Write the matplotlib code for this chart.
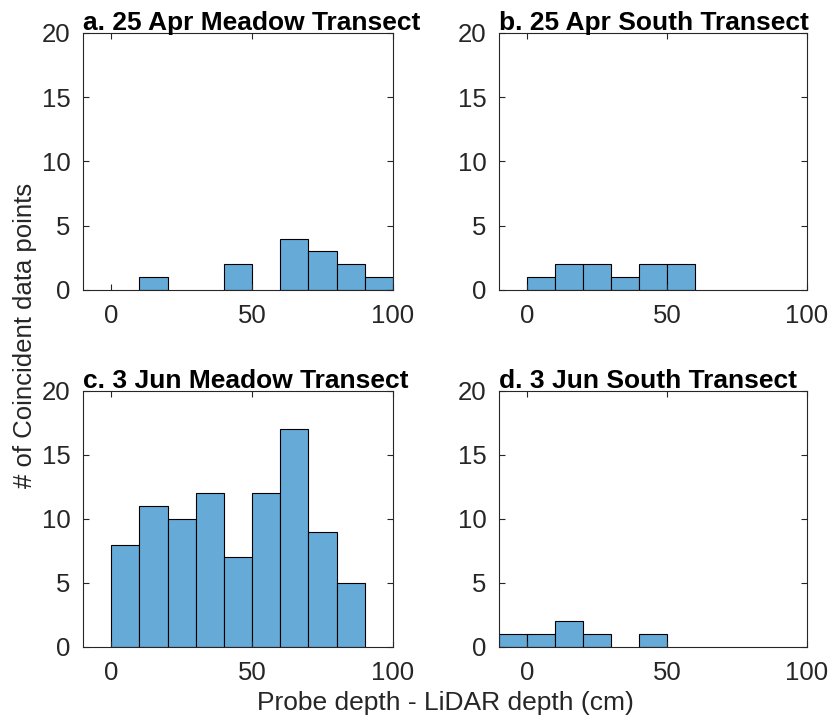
import numpy as np
import matplotlib.pyplot as plt

plt.rcParams['font.family'] = ['Liberation Sans', 'DejaVu Sans']

# histogram bin edges (cm) and counts per panel
edges = np.arange(-10, 101, 10)
titles = ['a. 25 Apr Meadow Transect', 'b. 25 Apr South Transect',
          'c. 3 Jun Meadow Transect', 'd. 3 Jun South Transect']
# counts for bins -10-0, 0-10, ..., 90-100
counts_a = [0, 0, 1, 0, 0, 2, 0, 4, 3, 2, 1]
counts_b = [0, 1, 2, 2, 1, 2, 2, 0, 0, 0, 0]
counts_c = [0, 8, 11, 10, 12, 7, 12, 17, 9, 5, 0]
counts_d = [1, 1, 2, 1, 0, 1, 0, 0, 0, 0, 0]
all_counts = [counts_a, counts_b, counts_c, counts_d]

xticks = [0, 50, 100]
yticks = [0, 5, 10, 15, 20]

W, H = 834, 728
fig = plt.figure(figsize=(W / 100, H / 100), dpi=100)

# axes boxes in pixels: left, top, right, bottom
boxes = [(83, 33, 393, 290), (499, 33, 807, 290),
         (83, 391, 393, 647), (499, 391, 807, 647)]

face = (0.4, 0.668, 0.845)
grey = '#262626'

for box, title, counts in zip(boxes, titles, all_counts):
    l, t, r, b = box
    ax = fig.add_axes([l / W, 1 - b / H, (r - l) / W, (b - t) / H])
    left = edges[:-1]
    nz = [i for i, c in enumerate(counts) if c > 0]
    ax.bar(left[nz], np.array(counts)[nz], width=10, align='edge',
           color=face, edgecolor='black', linewidth=0.8)
    ax.set_xlim(-10, 100)
    ax.set_ylim(0, 20)
    ax.set_xticks(xticks)
    ax.set_yticks(yticks)
    ax.tick_params(direction='in', length=4, width=0.8, colors=grey,
                   labelsize=18.5, top=True, right=True)
    ax.tick_params(axis='x', pad=10)
    ax.tick_params(axis='y', pad=9)
    for s in ax.spines.values():
        s.set_color(grey)
        s.set_linewidth(0.8)
    ax.set_title(title, loc='left', fontsize=19, fontweight='bold', pad=2)

fig.text(25 / W, 1 - 335 / H, '# of Coincident data points', rotation=90,
         ha='center', va='center', fontsize=18.5, color=grey)
fig.text(445 / W, 1 - 703 / H, 'Probe depth - LiDAR depth (cm)',
         ha='center', va='center', fontsize=19, color=grey)

fig.savefig('out.png', dpi=100)
